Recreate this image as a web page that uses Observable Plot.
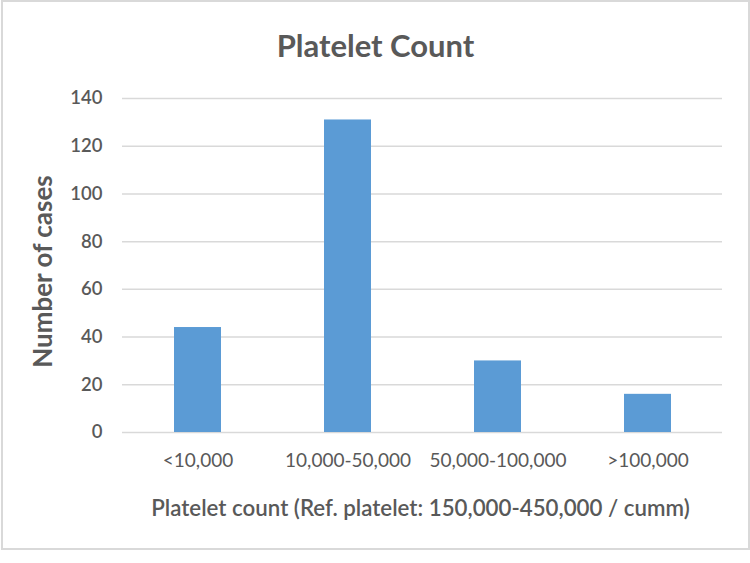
<!DOCTYPE html>
<html>
<head>
<meta charset="utf-8">
<script src="https://cdn.jsdelivr.net/npm/d3@7"></script>
<script src="https://cdn.jsdelivr.net/npm/@observablehq/plot@0.6"></script>
<style>
  body { margin: 0; background: #fff; }
  #wrap { position: relative; width: 750px; height: 563px; }
  #border { position: absolute; left: 1px; top: 0px; width: 745px; height: 546px; border: 2px solid #d9d9d9; pointer-events: none; }
  svg { font-family: Lato, "Open Sans", sans-serif; }
</style>
</head>
<body>
<div id="wrap"><div id="border"></div></div>
<script>
const categories = ["<10,000", "10,000-50,000", "50,000-100,000", ">100,000"];
const cases = [44, 131, 30, 16];
const yTicks = [0, 20, 40, 60, 80, 100, 120, 140];
const title = "Platelet Count";
const xLabel = "Platelet count (Ref. platelet: 150,000-450,000 / cumm)";
const yLabel = "Number of cases";

const data = categories.map((c, i) => ({category: c, value: cases[i]}));
const textColor = "#595959";

const chart = Plot.plot({
  width: 750,
  height: 563,
  marginLeft: 122,
  marginRight: 28,
  marginTop: 98,
  marginBottom: 131,
  style: {background: "transparent", color: textColor, fontFamily: "Lato, 'Open Sans', sans-serif"},
  x: {domain: categories, paddingInner: 0.69, paddingOuter: 0.345, label: null},
  y: {domain: [0, 140], label: null},
  marks: [
    Plot.gridY(yTicks, {stroke: "#d9d9d9", strokeOpacity: 1, strokeWidth: 1.5}),
    Plot.barY(data, {x: "category", y: "value", fill: "#5b9bd5"}),
    Plot.axisY(yTicks, {tickSize: 0, tickPadding: 20, fontSize: 18.5, label: null, fill: textColor, fontWeight: 600}),
    Plot.axisX({tickSize: 0, tickPadding: 21, fontSize: 19, label: null, fill: textColor}),
    Plot.text([title], {frameAnchor: "top", lineAnchor: "middle", dx: -47, dy: -51, fontSize: 31, fontWeight: "bold", fill: textColor}),
    Plot.text([xLabel], {frameAnchor: "bottom", lineAnchor: "middle", dx: -2, dy: 76, fontSize: 22.3, fontWeight: 600, fill: textColor}),
    Plot.text([yLabel], {frameAnchor: "left", textAnchor: "middle", lineAnchor: "middle", dx: -79, dy: 6, rotate: -90, fontSize: 26, fontWeight: "bold", fill: textColor})
  ]
});
document.getElementById("wrap").prepend(chart);
</script>
</body>
</html>
